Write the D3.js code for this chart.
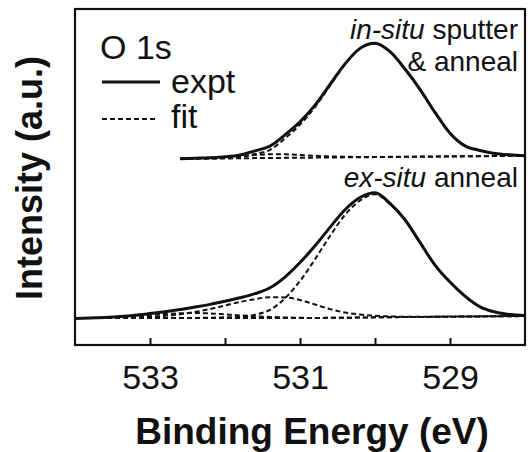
<!DOCTYPE html>
<html>
<head>
<meta charset="utf-8">
<script src="https://cdn.jsdelivr.net/npm/d3@7"></script>
<style>
body{margin:0;background:#fff;}
text{font-family:"Liberation Sans",Arial,Helvetica,sans-serif;fill:#111;}
</style>
</head>
<body>
<div id="chart"></div>
<script>
"use strict";
// ex-situ anneal spectrum (lower trace)
const energyEx = [534.0,533.8,533.6,533.4,533.2,533.0,532.8,532.6,532.4,532.2,532.0,531.8,531.6,531.4,531.2,531.0,
    530.8,530.6,530.4,530.2,530.0,529.8,529.6,529.4,529.2,529.0,528.8,528.6,528.4,528.2,528.0];
const exExpt = [0.000,0.004,0.009,0.016,0.026,0.040,0.055,0.072,0.092,0.113,0.138,0.165,0.198,0.245,0.330,0.445,
    0.578,0.725,0.865,0.962,1.000,0.915,0.785,0.605,0.425,0.290,0.178,0.093,0.052,0.032,0.024];
const exMain = [0.004,0.004,0.004,0.004,0.004,0.004,0.004,0.004,0.005,0.007,0.010,0.014,0.031,0.069,0.161,0.299,
    0.471,0.656,0.824,0.938,0.988,0.909,0.782,0.603,0.424,0.289,0.177,0.092,0.051,0.031,0.023];
const exShoulder = [0.004,0.004,0.005,0.007,0.010,0.015,0.022,0.034,0.052,0.076,0.104,0.132,0.155,0.170,0.168,0.148,
    0.112,0.075,0.048,0.032,0.022,0.017,0.015,0.015,0.015,0.016,0.017,0.018,0.019,0.020,0.021];
const exHigh = [0.004,0.005,0.008,0.013,0.020,0.029,0.037,0.042,0.044,0.041,0.033,0.025,0.019,0.013,0.009,0.006,
    0.005,0.006,0.007,0.008,0.010,0.011,0.012,0.013,0.014,0.015,0.016,0.017,0.018,0.019,0.020];
const exBg = [0.004,0.004,0.004,0.004,0.004,0.004,0.004,0.004,0.004,0.004,0.004,0.004,0.004,0.004,0.004,0.004,
    0.005,0.006,0.007,0.008,0.010,0.011,0.012,0.013,0.014,0.015,0.016,0.017,0.018,0.019,0.020];

// in-situ sputter & anneal spectrum (upper trace, shifted up)
const energyIn = [532.6,532.4,532.2,532.0,531.8,531.6,531.4,531.2,531.0,530.8,530.6,530.4,530.2,530.0,
    529.8,529.6,529.4,529.2,529.0,528.8,528.6,528.4,528.2,528.0];
const inExpt = [0.000,0.004,0.008,0.015,0.030,0.063,0.100,0.190,0.293,0.426,0.590,0.754,0.877,0.918,
    0.851,0.713,0.552,0.368,0.203,0.102,0.066,0.042,0.031,0.024];
const inMain = [0.000,0.001,0.002,0.004,0.012,0.038,0.071,0.162,0.271,0.411,0.581,0.749,0.875,0.917,
    0.850,0.712,0.551,0.367,0.202,0.101,0.065,0.041,0.030,0.023];
const inShoulder = [0.001,0.004,0.008,0.014,0.022,0.030,0.035,0.035,0.030,0.024,0.019,0.016,0.014,0.014,
    0.015,0.016,0.017,0.018,0.019,0.020,0.021,0.022,0.023,0.023];
const inBg = [0.000,0.001,0.002,0.003,0.004,0.005,0.006,0.007,0.008,0.009,0.010,0.011,0.012,0.013,
    0.014,0.015,0.016,0.017,0.018,0.019,0.020,0.021,0.022,0.022];
const inOffset = 1.27;

const tickValues = [533, 532, 531, 530, 529];
const tickLabels = ["533", "", "531", "", "529"];

const width = 532, height = 452;
const svg = d3.select("#chart").append("svg")
    .attr("width", width).attr("height", height);

const x = d3.scaleLinear().domain([534, 528]).range([75, 525]);
const y = d3.scaleLinear().domain([-0.21, 2.46]).range([345, 9]);

svg.append("clipPath").attr("id", "clip")
    .append("rect").attr("x", x(534)).attr("y", y(2.46))
    .attr("width", x(528) - x(534)).attr("height", y(-0.21) - y(2.46));

const plot = svg.append("g").attr("clip-path", "url(#clip)");

function mkLine(energies, off) {
    return d3.line()
        .x((d, i) => x(energies[i]))
        .y(d => y(d + off))
        .curve(d3.curveMonotoneX);
}

// fit components and measured curves
const fits = [
    [energyEx, exBg, 0], [energyEx, exHigh, 0], [energyEx, exShoulder, 0], [energyEx, exMain, 0],
    [energyIn, inBg, inOffset], [energyIn, inShoulder, inOffset], [energyIn, inMain, inOffset]
];
const expts = [[energyEx, exExpt, 0], [energyIn, inExpt, inOffset]];

plot.selectAll("path.expt").data(expts).enter().append("path")
    .attr("class", "expt")
    .attr("d", s => mkLine(s[0], s[2])(s[1]))
    .attr("fill", "none").attr("stroke", "#111").attr("stroke-width", 3)
    .attr("stroke-linejoin", "round");

plot.selectAll("path.fit").data(fits).enter().append("path")
    .attr("class", "fit")
    .attr("d", s => mkLine(s[0], s[2])(s[1]))
    .attr("fill", "none").attr("stroke", "#111").attr("stroke-width", 2)
    .attr("stroke-dasharray", "5,3");

// axis with inward ticks
const axis = svg.append("g")
    .attr("transform", `translate(0,${y(-0.21)})`)
    .call(d3.axisBottom(x).tickValues(tickValues).tickSize(-7).tickPadding(20)
        .tickFormat((d, i) => tickLabels[i]));
axis.select(".domain").remove();
axis.selectAll(".tick line").attr("stroke", "#111").attr("stroke-width", 2);
axis.selectAll(".tick text")
    .style("font-family", '"Liberation Sans",Arial,sans-serif')
    .attr("font-size", 34).attr("fill", "#111");

// frame
svg.append("rect")
    .attr("x", x(534)).attr("y", y(2.46))
    .attr("width", x(528) - x(534)).attr("height", y(-0.21) - y(2.46))
    .attr("fill", "none").attr("stroke", "#111").attr("stroke-width", 2.2);

// titles
svg.append("text")
    .attr("x", 312).attr("y", 444)
    .attr("text-anchor", "middle")
    .attr("font-size", 37).attr("font-weight", "bold")
    .text("Binding Energy (eV)");

svg.append("text")
    .attr("transform", "translate(42,178) rotate(-90)")
    .attr("text-anchor", "middle")
    .attr("font-size", 36).attr("font-weight", "bold")
    .text("Intensity (a.u.)");

// trace labels
const t1 = svg.append("text").attr("x", 518).attr("y", 39)
    .attr("text-anchor", "end").attr("font-size", 28);
t1.append("tspan").attr("font-style", "italic").text("in-situ");
t1.append("tspan").text(" sputter");
svg.append("text").attr("x", 518).attr("y", 71)
    .attr("text-anchor", "end").attr("font-size", 28)
    .text("& anneal");
const t2 = svg.append("text").attr("x", 518).attr("y", 187)
    .attr("text-anchor", "end").attr("font-size", 28);
t2.append("tspan").attr("font-style", "italic").text("ex-situ");
t2.append("tspan").text(" anneal");

// legend
const leg = svg.append("g");
leg.append("text").attr("x", 100).attr("y", 59).attr("font-size", 34).text("O 1s");
leg.append("line").attr("x1", 102).attr("x2", 160).attr("y1", 82).attr("y2", 82)
    .attr("stroke", "#111").attr("stroke-width", 3);
leg.append("text").attr("x", 171).attr("y", 93).attr("font-size", 34).text("expt");
leg.append("line").attr("x1", 102).attr("x2", 158).attr("y1", 119).attr("y2", 119)
    .attr("stroke", "#111").attr("stroke-width", 2).attr("stroke-dasharray", "5,3");
leg.append("text").attr("x", 171).attr("y", 128).attr("font-size", 34).text("fit");
</script>
</body>
</html>
